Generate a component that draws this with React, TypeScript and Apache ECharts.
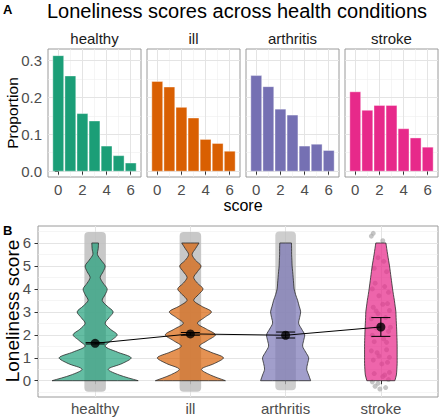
import React, { useEffect, useRef } from 'react';
import * as echarts from 'echarts';

// ---------- data ----------
const conditions = ['healthy', 'ill', 'arthritis', 'stroke'];
const palette = ['#1B9E77', '#D95F02', '#7570B3', '#E7298A'];
const violinFills = ['rgba(27,158,119,0.68)', 'rgba(217,95,2,0.68)', 'rgba(117,112,179,0.68)', 'rgba(231,41,138,0.72)'];

const scores = [0, 1, 2, 3, 4, 5, 6];
const propHealthy = [0.313, 0.258, 0.156, 0.136, 0.068, 0.042, 0.022];
const propIll = [0.243, 0.228, 0.173, 0.144, 0.086, 0.075, 0.054];
const propArthritis = [0.259, 0.229, 0.168, 0.152, 0.068, 0.073, 0.056];
const propStroke = [0.215, 0.165, 0.178, 0.178, 0.115, 0.090, 0.065];
const proportions = [propHealthy, propIll, propArthritis, propStroke];

const propTicks = [0, 0.1, 0.2, 0.3];
const propMinor = [0.05, 0.15, 0.25];
const scoreTicks = [0, 2, 4, 6];
const scoreMinor = [1, 3, 5];

// violin half-widths (in category units) at these loneliness levels
const violinLevels = [0, 0.25, 0.5, 0.75, 1, 1.25, 1.5, 1.75, 2, 2.25, 2.5, 2.75, 3, 3.25, 3.5, 3.75, 4, 4.25, 4.5, 4.75, 5, 5.25, 5.5, 5.75, 6];
const violinHealthy = [0.452, 0.252, 0.137, 0.284, 0.378, 0.231, 0.105, 0.168, 0.231, 0.158, 0.105, 0.147, 0.189, 0.126, 0.074, 0.105, 0.126, 0.084, 0.053, 0.084, 0.105, 0.063, 0.024, 0.032, 0.035];
const violinIll = [0.368, 0.210, 0.116, 0.252, 0.347, 0.210, 0.095, 0.179, 0.263, 0.168, 0.074, 0.147, 0.221, 0.116, 0.035, 0.084, 0.133, 0.074, 0.035, 0.074, 0.112, 0.053, 0.018, 0.053, 0.091];
const violinArthritis = [0.263, 0.242, 0.221, 0.231, 0.242, 0.210, 0.179, 0.189, 0.200, 0.168, 0.137, 0.147, 0.158, 0.142, 0.126, 0.105, 0.089, 0.084, 0.079, 0.074, 0.068, 0.066, 0.063, 0.063, 0.061];
const violinStroke = [0.147, 0.163, 0.168, 0.171, 0.171, 0.171, 0.171, 0.170, 0.168, 0.166, 0.163, 0.160, 0.158, 0.150, 0.142, 0.132, 0.123, 0.115, 0.107, 0.099, 0.091, 0.081, 0.071, 0.062, 0.053];
const violins = [violinHealthy, violinIll, violinArthritis, violinStroke];

const loneTicks = [0, 1, 2, 3, 4, 5, 6];
const loneMinor = [-0.5, 0.5, 1.5, 2.5, 3.5, 4.5, 5.5, 6.5];
const catPositions = [1, 2, 3, 4];

const means = [1.63, 2.04, 1.98, 2.34];
const ciLow = [1.60, 1.98, 1.86, 1.93];
const ciHigh = [1.66, 2.10, 2.12, 2.75];

// dense jittered point columns: [category position, lowest, highest, half width]
const pointColumns = [
  [1, -0.48, 6.48, 0.113],
  [2, -0.48, 6.48, 0.113],
  [3, -0.42, 6.5, 0.108],
];
// sparse stroke points: [score, x jitter, y jitter]
const strokePoints = [
  [0, -0.07, 0.31], [0, 0.02, 0.18], [0, 0.08, 0.05], [0, -0.03, -0.12], [0, 0.05, -0.3], [0, -0.09, -0.05], [0, 0.09, 0.36], [0, -0.01, -0.36], [0, 0.04, 0.25], [0, -0.06, -0.24],
  [1, 0.06, 0.35], [1, -0.04, 0.22], [1, 0.09, 0.02], [1, -0.08, -0.1], [1, 0.01, -0.27], [1, 0.07, -0.2], [1, -0.02, 0.08], [1, -0.1, 0.3],
  [2, -0.05, 0.3], [2, 0.08, 0.15], [2, -0.09, -0.02], [2, 0.03, -0.18], [2, -0.02, 0.39], [2, 0.06, -0.33], [2, -0.07, -0.3], [2, 0.1, 0.33],
  [3, 0.02, 0.33], [3, -0.08, 0.2], [3, 0.09, 0.06], [3, -0.03, -0.08], [3, 0.05, -0.25], [3, -0.1, -0.3], [3, 0.07, 0.36], [3, -0.05, 0.04],
  [4, -0.06, 0.25], [4, 0.04, 0.1], [4, 0.08, -0.15], [4, -0.02, -0.3], [4, -0.09, 0.0],
  [5, 0.03, 0.2], [5, -0.07, -0.1], [5, 0.06, -0.25], [5, -0.03, 0.36],
  [6, -0.08, 0.42], [6, 0.02, 0.1], [6, -0.1, 0.3],
];

// ---------- styling ----------
const FONT = 'Liberation Sans, Arial, Helvetica, sans-serif';
const BORDER = '#9a9a9a';
const MAJOR = '#E4E4E4';
const MINOR = '#EFEFEF';
const TICKLAB = '#4D4D4D';

export default function App() {
  const ref = useRef<HTMLDivElement>(null);

  useEffect(() => {
    if (!ref.current) return;
    const chart = echarts.init(ref.current, undefined, { renderer: 'svg' });

    const grids: any[] = [];
    const xAxes: any[] = [];
    const yAxes: any[] = [];
    const series: any[] = [];

    const panelLefts = [48, 147, 246, 345];
    const panelW = 93;

    const majorAxis = (gridIndex: number, position: string, min: number, max: number, ticks: number[], showLabels: boolean, margin: number, fontSize: number, formatter?: any) => ({
      type: 'value', gridIndex, position, min, max,
      axisLine: { show: false },
      axisTick: { show: showLabels, customValues: ticks, length: 3.5, lineStyle: { color: '#333', width: 1 } },
      axisLabel: { show: showLabels, customValues: ticks, color: TICKLAB, fontSize, fontFamily: FONT, margin, formatter },
      splitLine: { show: true, lineStyle: { color: MAJOR, width: 1 } },
      z: 1,
    });
    const minorAxis = (gridIndex: number, position: string, min: number, max: number, ticks: number[]) => ({
      type: 'value', gridIndex, position, min, max,
      axisLine: { show: false },
      axisTick: { show: false, customValues: ticks },
      axisLabel: { show: false },
      splitLine: { show: true, lineStyle: { color: MINOR, width: 0.6 } },
      z: 0,
    });

    // ---- Panel A facets ----
    for (let i = 0; i < 4; i++) {
      grids.push({ left: panelLefts[i], top: 49, width: panelW, height: 128, show: true, backgroundColor: '#fff', borderColor: BORDER, borderWidth: 1, containLabel: false });
      xAxes.push(minorAxis(i, 'top', -0.85, 6.85, scoreMinor));
      xAxes.push(majorAxis(i, 'bottom', -0.85, 6.85, scoreTicks, true, 5, 15));
      yAxes.push(minorAxis(i, 'right', -0.0158, 0.331, propMinor));
      yAxes.push(majorAxis(i, 'left', -0.0158, 0.331, propTicks, i === 0, 6, 15, (v: number) => v.toFixed(1)));
      const color = palette[i];
      series.push({
        type: 'custom',
        xAxisIndex: 2 * i + 1, yAxisIndex: 2 * i + 1,
        z: 3,
        data: scores.map((s, j) => [s, proportions[i][j]]),
        encode: { x: 0, y: 1 },
        renderItem: (params: any, api: any) => {
          const x = api.value(0), y = api.value(1);
          const p0 = api.coord([x - 0.45, y]);
          const p1 = api.coord([x + 0.45, 0]);
          return {
            type: 'rect',
            shape: { x: p0[0], y: p0[1], width: p1[0] - p0[0], height: p1[1] - p0[1] },
            style: { fill: color, stroke: 'rgba(255,255,255,0.55)', lineWidth: 0.7 },
          };
        },
      });
    }

    // ---- Panel B ----
    const gB = 4;
    grids.push({ left: 38, top: 226, width: 400, height: 171, show: true, backgroundColor: '#fff', borderColor: BORDER, borderWidth: 1, containLabel: false });
    xAxes.push(majorAxis(gB, 'bottom', 0.4, 4.6, catPositions, true, 4, 15, (v: number) => conditions[Math.round(v) - 1]));
    yAxes.push(minorAxis(gB, 'right', -0.71, 6.74, loneMinor));
    yAxes.push(majorAxis(gB, 'left', -0.71, 6.74, loneTicks, true, 7, 15));
    const bx = 8, by = 9;

    // dense point columns
    series.push({
      type: 'custom', xAxisIndex: bx, yAxisIndex: by, z: 2,
      data: pointColumns,
      encode: { x: 0, y: [1, 2] },
      renderItem: (params: any, api: any) => {
        const c = api.value(0), lo = api.value(1), hi = api.value(2), hw = api.value(3);
        const p0 = api.coord([c - hw, hi]);
        const p1 = api.coord([c + hw, lo]);
        return {
          type: 'rect',
          shape: { x: p0[0], y: p0[1], width: p1[0] - p0[0], height: p1[1] - p0[1], r: 4 },
          style: { fill: params.dataIndex === 2 ? 'rgba(185,185,185,0.7)' : 'rgba(190,190,190,0.85)' },
        };
      },
    });
    // sparse stroke points
    series.push({
      type: 'scatter', xAxisIndex: bx, yAxisIndex: by, z: 2,
      data: strokePoints.map((p) => [4 + p[1], p[0] + p[2]]),
      symbolSize: 5,
      itemStyle: { color: 'rgba(170,170,170,0.85)' },
      silent: true,
    });
    // violins
    series.push({
      type: 'custom', xAxisIndex: bx, yAxisIndex: by, z: 3,
      data: catPositions.map((p) => [p, 0]),
      encode: { x: 0, y: 1 },
      renderItem: (params: any, api: any) => {
        const i = params.dataIndex;
        const pos = api.value(0);
        const hw = violins[i];
        const right = violinLevels.map((lv, k) => api.coord([pos + hw[k], lv]));
        const left = violinLevels.map((lv, k) => api.coord([pos - hw[k], lv])).reverse();
        const pts = [right[0], ...right, right[right.length - 1], left[0], ...left, left[left.length - 1]];
        return {
          type: 'polygon',
          shape: { points: pts, smooth: 0.3 },
          style: { fill: violinFills[i], stroke: '#2b2b2b', lineWidth: 0.8 },
        };
      },
    });
    // mean line
    series.push({
      type: 'line', xAxisIndex: bx, yAxisIndex: by, z: 4,
      data: catPositions.map((p, i) => [p, means[i]]),
      symbol: 'none',
      lineStyle: { color: '#000', width: 1 },
      silent: true,
    });
    // error bars
    series.push({
      type: 'custom', xAxisIndex: bx, yAxisIndex: by, z: 5,
      data: catPositions.map((p, i) => [p, ciLow[i], ciHigh[i]]),
      encode: { x: 0, y: [1, 2] },
      renderItem: (params: any, api: any) => {
        const x = api.value(0), lo = api.value(1), hi = api.value(2);
        const t = api.coord([x, hi]), b = api.coord([x, lo]);
        const tl = api.coord([x - 0.1, hi]), tr = api.coord([x + 0.1, hi]);
        const bl = api.coord([x - 0.1, lo]), br = api.coord([x + 0.1, lo]);
        const st = { stroke: '#000', lineWidth: 1 };
        return {
          type: 'group',
          children: [
            { type: 'line', shape: { x1: t[0], y1: t[1], x2: b[0], y2: b[1] }, style: st },
            { type: 'line', shape: { x1: tl[0], y1: tl[1], x2: tr[0], y2: tr[1] }, style: st },
            { type: 'line', shape: { x1: bl[0], y1: bl[1], x2: br[0], y2: br[1] }, style: st },
          ],
        };
      },
    });
    // mean points
    series.push({
      type: 'scatter', xAxisIndex: bx, yAxisIndex: by, z: 6,
      data: catPositions.map((p, i) => [p, means[i]]),
      symbolSize: 9,
      itemStyle: { color: '#000' },
      silent: true,
    });

    const txt = (x: number, y: number, text: string, size: number, opts: any = {}) => ({
      type: 'text', x, y, rotation: opts.rotation || 0, silent: true,
      style: { text, fontSize: size, fontFamily: FONT, fill: opts.fill || '#000', fontWeight: opts.bold ? 'bold' : 'normal', align: opts.align || 'center', verticalAlign: 'middle' },
    });

    const graphics: any[] = [
      txt(3, 9, 'A', 13, { bold: true, align: 'left' }),
      txt(237, 11, 'Loneliness scores across health conditions', 20),
      ...conditions.map((c, i) => txt(panelLefts[i] + panelW / 2, 38, c, 15, { fill: '#1a1a1a' })),
      txt(12, 113, 'Proportion', 15.5, { rotation: Math.PI / 2 }),
      txt(243, 205, 'score', 16),
      txt(3, 230, 'B', 13, { bold: true, align: 'left' }),
      txt(12, 311, 'Loneliness score', 19, { rotation: Math.PI / 2 }),
    ];

    chart.setOption({
      animation: false,
      grid: grids,
      xAxis: xAxes,
      yAxis: yAxes,
      series,
      graphic: { elements: graphics },
    });

    return () => chart.dispose();
  }, []);

  return <div ref={ref} style={{ position: 'fixed', left: 0, top: 0, width: 440, height: 419, background: '#fff' }} />;
}
